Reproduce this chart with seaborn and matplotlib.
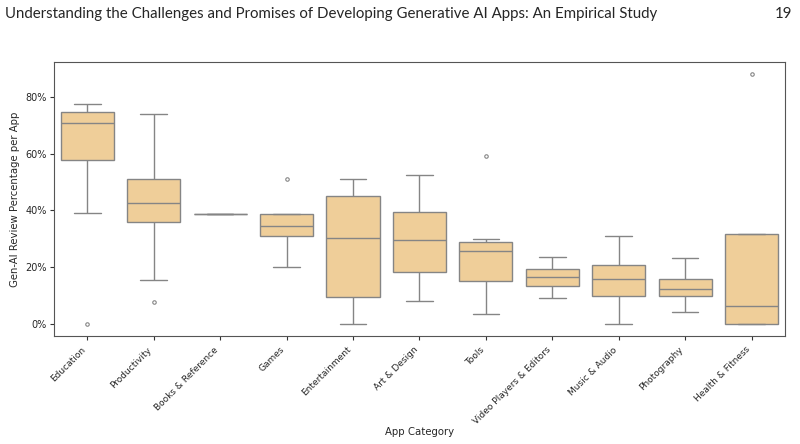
import pandas as pd
import seaborn as sns
import matplotlib.pyplot as plt
from matplotlib.ticker import PercentFormatter

# Gen-AI review percentage per app
education = [0.0, 38.9, 57.9, 65.0, 70.7, 72.5, 74.7, 76.0, 77.5]
productivity = [7.5, 15.3, 35.8, 39.0, 42.5, 46.0, 51.2, 60.0, 74.1]
books_reference = [38.6]
games = [20.0, 26.0, 30.8, 33.0, 34.4, 36.0, 38.6, 38.6, 51.2]
entertainment = [0.0, 9.5, 30.4, 45.2, 51.1]
art_design = [7.9, 18.4, 29.7, 39.6, 52.4]
tools = [3.5, 10.0, 15.2, 20.0, 25.7, 27.0, 29.0, 30.0, 59.2]
video_players = [9.1, 13.3, 16.6, 19.2, 23.7]
music_audio = [0.0, 9.9, 15.6, 20.7, 30.8]
photography = [4.1, 9.8, 12.3, 15.8, 23.1]
health_fitness = [0.0, 0.0, 0.0, 3.0, 6.2, 20.0, 31.5, 31.5, 88.1]

categories = ["Education", "Productivity", "Books & Reference", "Games",
              "Entertainment", "Art & Design", "Tools", "Video Players & Editors",
              "Music & Audio", "Photography", "Health & Fitness"]
values = [education, productivity, books_reference, games, entertainment,
          art_design, tools, video_players, music_audio, photography, health_fitness]

rows = []
for cat, vals in zip(categories, values):
    for v in vals:
        rows.append({"App Category": cat, "pct": v})
df = pd.DataFrame(rows)

sns.set_style("ticks")
plt.rcParams["font.family"] = ["DejaVu Sans"]

fig = plt.figure(figsize=(8, 4.44), dpi=100)
ax = fig.add_axes([0.0675, 0.243, 0.9135, 0.618])

sns.boxplot(data=df, x="App Category", y="pct", order=categories,
            color="#EFCE99", saturation=1, linecolor="#858585", linewidth=1,
            width=0.8, ax=ax,
            flierprops=dict(marker="o", markersize=2.5, markerfacecolor="none",
                            markeredgecolor="#858585", markeredgewidth=0.8))

ax.yaxis.set_major_formatter(PercentFormatter(100, decimals=0))
ax.set_yticks([0, 20, 40, 60, 80])
ax.set_ylabel("Gen-AI Review Percentage per App", fontsize=7.3)
ax.set_xlabel("App Category", fontsize=7.3)
ax.xaxis.set_label_coords(0.5, -0.33)
ax.yaxis.set_label_coords(-0.046, 0.5)
ax.tick_params(axis="both", length=3, width=0.8, color="#333333")
ax.tick_params(axis="y", labelsize=7, pad=2)
ax.tick_params(axis="x", labelsize=6.5)
plt.setp(ax.get_xticklabels(), rotation=45, ha="right")
for s in ax.spines.values():
    s.set_visible(True)
    s.set_color("#555555")
    s.set_linewidth(0.8)

# Page header of the paper
fig.text(0.006, 0.968, "Understanding the Challenges and Promises of Developing Generative AI Apps: An Empirical Study",
         fontsize=10.8, family="Lato", va="center", ha="left")
fig.text(0.99, 0.968, "19", fontsize=10.8, family="Lato", va="center", ha="right")

plt.savefig("out.png", dpi=100)
